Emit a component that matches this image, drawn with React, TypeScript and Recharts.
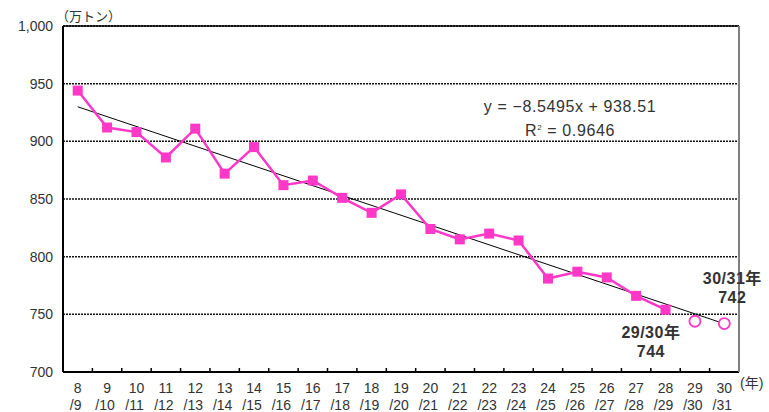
import { CartesianGrid, LabelList, Line, LineChart, ReferenceLine, XAxis, YAxis } from 'recharts'

const YEARS = ['8', '9', '10', '11', '12', '13', '14', '15', '16', '17', '18', '19', '20', '21', '22', '23', '24', '25', '26', '27', '28', '29', '30']
const NEXT_YEARS = ['9', '10', '11', '12', '13', '14', '15', '16', '17', '18', '19', '20', '21', '22', '23', '24', '25', '26', '27', '28', '29', '30', '31']
// 実績（万トン）
const ACTUAL = [944, 912, 908, 886, 911, 872, 895, 862, 866, 851, 838, 854, 824, 815, 820, 814, 781, 787, 782, 766, 754, null, null]
// 見通し
const ESTIMATE = [null, null, null, null, null, null, null, null, null, null, null, null, null, null, null, null, null, null, null, null, null, 744, 742]
// y = -8.5495x + 938.51 の両端
const TREND_ENDS = [929.96, 741.87]
const Y_TICKS = [700, 750, 800, 850, 900, 950, 1000]

const PINK = '#ff38c8'
const FONT = "'Liberation Sans', 'Noto Sans CJK JP', sans-serif"
const HALF_BAND = 676 / YEARS.length / 2

const data = YEARS.map((y, i) => ({
  label: `${y}/${NEXT_YEARS[i]}`,
  actual: ACTUAL[i],
  estimate: ESTIMATE[i],
  trend: i === 0 ? TREND_ENDS[0] : i === YEARS.length - 1 ? TREND_ENDS[1] : null,
}))

function XTick({ x, y, payload, index }: any) {
  const [a, b] = String(payload.value).split('/')
  return (
    <g>
      {index < YEARS.length - 1 && (
        <line x1={x + HALF_BAND} x2={x + HALF_BAND} y1={y} y2={y - 4} stroke="#000" strokeWidth={1.5} />
      )}
      <text x={x} y={y + 21} textAnchor="middle" fontSize={14} fill="#333" fontFamily={FONT}>{a}</text>
      <text x={x - 2} y={y + 38} textAnchor="middle" fontSize={14} fill="#333" fontFamily={FONT}>/{b}</text>
    </g>
  )
}

function SquareDot({ cx, cy, index }: any) {
  if (cy == null || cx == null) return <g key={index} />
  return <rect key={index} x={cx - 5} y={cy - 5} width={10} height={10} fill={PINK} />
}

function CircleDot({ cx, cy, index }: any) {
  if (cy == null || cx == null) return <g key={index} />
  return <circle key={index} cx={cx} cy={cy} r={5.5} fill="#fff" stroke={PINK} strokeWidth={1.8} />
}

function EstimateLabel({ x, y, value, index }: any) {
  if (value == null) return null
  const name = `${YEARS[index]}/${NEXT_YEARS[index]}年`
  const below = index === YEARS.length - 2
  const cx = below ? x - 44 : x + 8
  const y1 = below ? y + 17 : y - 40
  return (
    <g fontFamily={FONT} fontSize={16} fill="#333" textAnchor="middle" fontWeight="bold" letterSpacing={0.5}>
      <text x={cx} y={y1}>{name}</text>
      <text x={cx} y={y1 + 19}>{value}</text>
    </g>
  )
}

export default function App() {
  return (
    <div style={{ position: 'absolute', left: 0, top: 0, width: 769, height: 412, background: '#fff', fontFamily: FONT }}>
      <LineChart width={769} height={412} data={data} margin={{ top: 26, right: 0, bottom: 0, left: 8 }}>
        <CartesianGrid vertical={false} stroke="#111" strokeDasharray="2 1" strokeWidth={1.5} />
        <XAxis
          dataKey="label"
          interval={0}
          tickSize={0}
          tickMargin={0}
          height={40}
          padding={{ left: HALF_BAND, right: HALF_BAND }}
          axisLine={{ stroke: '#000', strokeWidth: 2 }}
          tick={<XTick />}
        />
        <YAxis
          domain={[700, 1000]}
          ticks={Y_TICKS}
          width={55}
          tickLine={false}
          tickFormatter={(v: number) => v.toLocaleString('en-US')}
          tick={{ fontSize: 14, fill: '#333', fontFamily: FONT }}
          tickMargin={4}
          axisLine={{ stroke: '#000', strokeWidth: 2 }}
        />
        <YAxis
          yAxisId="right"
          orientation="right"
          domain={[700, 1000]}
          width={30}
          tick={false}
          tickLine={false}
          axisLine={{ stroke: '#808080', strokeWidth: 2 }}
        />
        <ReferenceLine y={1000} stroke="#000" strokeWidth={1.5} />
        <Line
          dataKey="trend"
          stroke="#000"
          strokeWidth={1}
          dot={false}
          connectNulls
          isAnimationActive={false}
        />
        <Line
          dataKey="actual"
          stroke={PINK}
          strokeWidth={2.5}
          dot={SquareDot}
          isAnimationActive={false}
        />
        <Line
          dataKey="estimate"
          stroke="none"
          dot={CircleDot}
          isAnimationActive={false}
        >
          <LabelList dataKey="estimate" content={EstimateLabel} />
        </Line>
      </LineChart>
      <div style={{ position: 'absolute', left: 56, top: 6, fontSize: 13, color: '#333' }}>（万トン）</div>
      <div style={{ position: 'absolute', left: 740, top: 372, fontSize: 14, color: '#333' }}>(年)</div>
      <div style={{ position: 'absolute', left: 460, top: 96, width: 220, textAlign: 'center', fontSize: 16, letterSpacing: 0.6, color: '#333', lineHeight: '21px' }}>
        <div>y = −8.5495x + 938.51</div>
        <div>R<sup style={{ fontSize: 8 }}>2</sup> = 0.9646</div>
      </div>
    </div>
  )
}
